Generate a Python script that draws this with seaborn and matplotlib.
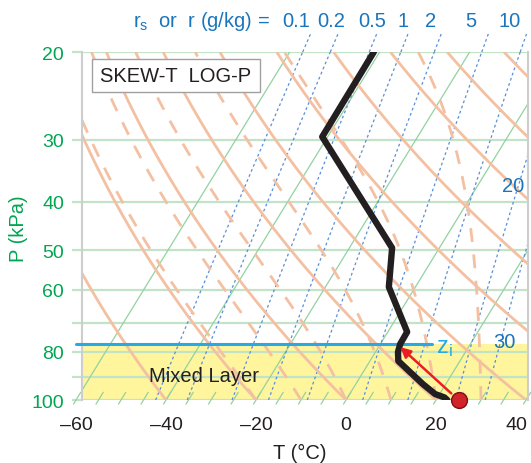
import numpy as np
import pandas as pd
import matplotlib
matplotlib.use("Agg")
import matplotlib.pyplot as plt
import matplotlib.ticker as mticker
from matplotlib.transforms import blended_transform_factory
from matplotlib.patches import Rectangle
import seaborn as sns

sns.set_style("white")
plt.rcParams["font.family"] = ["Liberation Sans", "DejaVu Sans"]

# ---------------- data ----------------
sounding_P = [20, 29.6, 49.5, 59.3, 73.0, 77.2, 80.1, 83.5, 92.9, 97.3, 98.8, 100]      # kPa
sounding_T = [-41.3, -41.2, -10.5, -5.9, 4.3, 4.4, 5.0, 6.3, 14.9, 19.0, 21.5, 22.5]   # degC
surface_T = 25.0          # degC, start of the thermal (red dot)
surface_P = 100.0
zi_P = 77.3               # kPa, top of mixed layer
arrow_top_P = 78.3

isobars = [20, 30, 40, 50, 60, 70, 80, 90, 100]
isobar_labels = ["20", "30", "40", "50", "60", "", "80", "", "100"]
isotherms = [-60, -40, -20, 0, 20, 40]
isotherm_ticks = list(range(-60, 45, 5))
dry_adiabats = [-40, -20, 0, 20, 40, 60, 80, 100, 120, 140]        # theta (degC at 100 kPa)
moist_adiabats = [-20, -10, 0, 10, 20, 30]                         # theta_w (degC)
mixing_ratios = [0.1, 0.2, 0.5, 1, 2, 5, 10, 20, 30]               # g/kg
mixing_top_labels = ["0.1", "0.2", "0.5", "1", "2", "5", "10"]
mixing_side_labels = ["20", "30"]
xtick_values = [-60, -40, -20, 0, 20, 40]

# ---------------- physics helpers ----------------
K = 29.5
P0 = 100.0
Rd, cp, Lv, eps = 287.04, 1004.0, 2.5e6, 0.622


def skew(T, P):
    return np.asarray(T) + K * np.log(P0 / np.asarray(P))


def esat(Tk):
    return 0.6113 * np.exp(5423.0 * (1 / 273.15 - 1 / Tk))


def rsat(Tk, P):
    e = esat(Tk)
    return eps * e / (P - e)


def moist_T(tw, p):
    T = np.empty_like(p)
    T[0] = tw + 273.15

    def f(Tk, pk):
        r = rsat(Tk, pk)
        return (Rd * Tk + Lv * r) / (cp + Lv ** 2 * r * eps / (Rd * Tk ** 2))

    for i in range(1, len(p)):
        dl = np.log(p[i] / p[i - 1])
        k1 = f(T[i - 1], p[i - 1])
        k2 = f(T[i - 1] + k1 * dl, p[i])
        T[i] = T[i - 1] + 0.5 * (k1 + k2) * dl
    return T - 273.15


def mixing_T(r, p):
    rr = r / 1000.0
    e = rr * p / (eps + rr)
    return 1.0 / (1 / 273.15 - np.log(e / 0.6113) / 5423.0) - 273.15


# ---------------- colours ----------------
green_txt = "#00a651"
isobar_c = "#c3e3c8"
isotherm_c = "#93d2a0"
peach = "#f4c0a2"
mix_c = "#5a8ed8"
blue_txt = "#1b75bc"
cyan = "#27aae1"
dark = "#231f20"

# ---------------- figure ----------------
W, H = 531, 464
fig = plt.figure(figsize=(W / 100, H / 100), dpi=100)
ax = fig.add_axes([82 / W, 63 / H, 446 / W, 348 / H])
ax.set_yscale("log")
ax.set_ylim(100, 20)
ax.set_xlim(-58.67, 40.44)

ax.set_yticks(isobars)
ax.set_yticklabels(isobar_labels)
ax.yaxis.set_minor_locator(mticker.NullLocator())
ax.yaxis.set_minor_formatter(mticker.NullFormatter())
ax.set_xticks([])
ax.tick_params(axis="y", which="major", left=True, length=7.2, width=1.6,
               color=isobar_c, pad=5.8, labelsize=14, labelcolor=green_txt)
for s in ["top", "bottom"]:
    ax.spines[s].set_visible(False)
for s in ["left", "right"]:
    ax.spines[s].set_color("#cdcdcd")
    ax.spines[s].set_linewidth(1.5)

# mixed layer shading
ax.axhspan(zi_P, 100, color="#fff59d", zorder=0.5, lw=0)

# isobars
for p in isobars:
    ax.axhline(p, color=isobar_c, lw=1.6, zorder=1)

p_full = np.geomspace(101.9, 20, 400)
# isotherms
for t in isotherms:
    ax.plot(skew(np.full_like(p_full, t), p_full), p_full, color=isotherm_c, lw=0.9, zorder=1.2)
p_stub = np.geomspace(101.9, 96.5, 10)
for t in isotherm_ticks:
    ax.plot(skew(np.full_like(p_stub, t), p_stub), p_stub, color=isotherm_c, lw=0.9,
            zorder=1.2, clip_on=False)

# mixing ratio lines
p_mix = np.geomspace(100, 20, 600)
p_ext = np.geomspace(20, 18.4, 20)
xmin, xmax = ax.get_xlim()
for r in mixing_ratios:
    ax.plot(skew(mixing_T(r, p_mix), p_mix), p_mix, color=mix_c, lw=0.9,
            ls=(0, (2.2, 2.2)), zorder=1.5)
    xe = skew(mixing_T(r, p_ext), p_ext)
    if xe.max() <= xmax:
        ax.plot(xe, p_ext, color=mix_c, lw=0.9, ls=(0, (2.2, 2.2)), zorder=1.5, clip_on=False)

# dry adiabats
p_ad = np.geomspace(100, 20, 400)
for th in dry_adiabats:
    T = (th + 273.15) * (p_ad / 100.0) ** (Rd / cp) - 273.15
    ax.plot(skew(T, p_ad), p_ad, color=peach, lw=2.0, zorder=2, solid_capstyle="butt")

# moist adiabats
for tw in moist_adiabats:
    T = moist_T(tw, p_ad)
    ax.plot(skew(T, p_ad), p_ad, color=peach, lw=2.0, ls=(0, (5.0, 4.5)), zorder=2)

# zi line (from just left of the frame to beyond the sounding)
ax.plot([-60.0, 19.0], [zi_P, zi_P], color=cyan, lw=2.2, zorder=3, clip_on=False)

# sounding
df = pd.DataFrame({"x": skew(sounding_T, sounding_P), "P": sounding_P})
sns.lineplot(data=df, x="x", y="P", sort=False, estimator=None, color=dark, lw=4.6,
             ax=ax, zorder=4, solid_capstyle="round", solid_joinstyle="round")
ax.set_xlabel("")
ax.set_ylabel("")

# thermal arrow along dry adiabat
T_tip = (surface_T + 273.15) * (arrow_top_P / surface_P) ** (Rd / cp) - 273.15
ax.annotate("", xy=(skew(T_tip, arrow_top_P), arrow_top_P),
            xytext=(skew(surface_T, surface_P), surface_P),
            arrowprops=dict(arrowstyle="-|>", color="#ec1c24", lw=1.8,
                            mutation_scale=15, shrinkA=7, shrinkB=0),
            annotation_clip=False, zorder=5)

dot = pd.DataFrame({"x": skew([surface_T], [surface_P]), "P": [surface_P]})
sns.scatterplot(data=dot, x="x", y="P", s=130, color="#d2232a", edgecolor="#7d1015",
                linewidth=1.0, ax=ax, zorder=6, clip_on=False)
ax.set_xlabel("")
ax.set_ylabel("")

# x tick labels
tr = blended_transform_factory(ax.transData, ax.transAxes)
for v in xtick_values:
    lab = ("\u2013" + str(abs(v))) if v < 0 else str(v)
    if v == xtick_values[-1]:
        ax.text(xmax - 0.1, -0.069, lab, transform=tr, ha="right", va="center",
                fontsize=14, color=dark, clip_on=False)
    else:
        ax.text(v, -0.069, lab, transform=tr, ha="center", va="center",
                fontsize=14, color=dark, clip_on=False)

fig.text(300 / W, 1 - 453 / H, "T (\u00b0C)", ha="center", va="center", fontsize=14.5, color=dark)
fig.text(18 / W, 1 - 229 / H, "P (kPa)", ha="center", va="center", rotation=90,
         fontsize=14.5, color=green_txt)

# mixing ratio labels
top_px = [296, 331, 372, 403, 431, 471, 510]
fig.text(133 / W, 1 - 27 / H, r"$\mathregular{r_s}$  or  r (g/kg) =", ha="left",
         va="baseline", fontsize=14.5, color=blue_txt)
for lab, px in zip(mixing_top_labels, top_px):
    fig.text(px / W, 1 - 27 / H, lab, ha="center", va="baseline", fontsize=14.5, color=blue_txt)
ax.text((513 - 82) / 446, (401 - 187) / 348, mixing_side_labels[0], transform=ax.transAxes,
        ha="center", va="center", fontsize=14.5, color=blue_txt, zorder=7)
ax.text((504 - 82) / 446, (401 - 342) / 348, mixing_side_labels[1], transform=ax.transAxes,
        ha="center", va="center", fontsize=14.5, color=blue_txt, zorder=7)

# z_i label
ax.text((436 - 82) / 446, (401 - 353) / 348, r"$\mathregular{z_i}$", transform=ax.transAxes,
        ha="left", va="baseline", fontsize=17, color=cyan, zorder=7, clip_on=False)

# Mixed Layer
ax.text((204 - 82) / 446, (401 - 377) / 348, "Mixed Layer", transform=ax.transAxes,
        ha="center", va="center", fontsize=14.5, color=dark, zorder=7)

# SKEW-T LOG-P box
ax.add_patch(Rectangle(((92 - 82) / 446, (401 - 93) / 348), (260 - 92) / 446, (93 - 60) / 348,
                       transform=ax.transAxes, facecolor="white", edgecolor="#a0a0a0",
                       lw=1.0, zorder=7))
ax.text((176 - 82) / 446, (401 - 77) / 348, "SKEW-T  LOG-P", transform=ax.transAxes,
        ha="center", va="center", fontsize=14.5, color=dark, zorder=8)

fig.savefig("out.png", dpi=100)
